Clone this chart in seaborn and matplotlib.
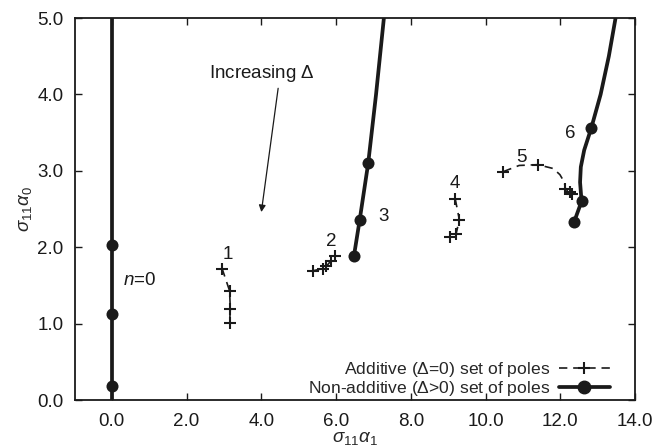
import matplotlib
matplotlib.use("Agg")
import matplotlib.pyplot as plt
import seaborn as sns
from matplotlib.lines import Line2D

# ---- data ----
# Non-additive (Delta>0) branches: curve paths and marked poles
n0_line_x = [0.0, 0.0]
n0_line_y = [0.0, 5.0]
n0_pts_x = [0.0, 0.0, 0.0]
n0_pts_y = [0.18, 1.12, 2.03]

b3_line_x = [6.48, 6.63, 6.86, 7.07, 7.28]
b3_line_y = [1.89, 2.35, 3.10, 4.00, 5.00]
b3_pts_x = [6.48, 6.63, 6.86]
b3_pts_y = [1.89, 2.35, 3.10]

b6_line_x = [12.37, 12.57, 12.53, 12.55, 12.64, 12.83, 13.08, 13.30, 13.48]
b6_line_y = [2.33, 2.60, 2.85, 3.05, 3.27, 3.56, 4.00, 4.50, 5.00]
b6_pts_x = [12.37, 12.57, 12.83]
b6_pts_y = [2.33, 2.60, 3.56]

# Additive (Delta=0) branches
a1_x = [2.95, 3.15, 3.17, 3.15]
a1_y = [1.72, 1.43, 1.19, 1.01]
a2_x = [5.37, 5.64, 5.74, 5.86, 5.96]
a2_y = [1.69, 1.72, 1.75, 1.82, 1.88]
a4_x = [9.19, 9.30, 9.21, 9.04]
a4_y = [2.63, 2.36, 2.17, 2.13]
a5_line_x = [10.48, 10.90, 11.40, 11.81, 11.99, 12.11, 12.14, 12.25, 12.32]
a5_line_y = [2.99, 3.07, 3.08, 3.03, 2.95, 2.85, 2.76, 2.72, 2.69]
a5_pts_x = [10.48, 11.40, 12.14, 12.25, 12.32]
a5_pts_y = [2.99, 3.08, 2.76, 2.72, 2.69]

branch_labels = ["1", "2", "3", "4", "5", "6"]
label_x = [3.09, 5.87, 7.28, 9.17, 10.96, 12.27]
label_y = [1.90, 2.08, 2.40, 2.84, 3.18, 3.49]

x_ticks = [0, 2, 4, 6, 8, 10, 12, 14]
x_ticklabels = ["0.0", "2.0", "4.0", "6.0", "8.0", "10.0", "12.0", "14.0"]
y_ticks = [0, 1, 2, 3, 4, 5]
y_ticklabels = ["0.0", "1.0", "2.0", "3.0", "4.0", "5.0"]

legend_labels = [r"Additive ($\mathit{\Delta}$=0) set of poles",
                 r"Non-additive ($\mathit{\Delta}$>0) set of poles"]

# ---- styling ----
sns.set_theme(style="ticks")
plt.rcParams["font.family"] = ["Liberation Sans", "DejaVu Sans"]
plt.rcParams["mathtext.fontset"] = "custom"
plt.rcParams["mathtext.rm"] = "Liberation Sans"
plt.rcParams["mathtext.it"] = "Liberation Sans:italic"
plt.rcParams["mathtext.sf"] = "Liberation Sans"

FS = 13.5
fig = plt.figure(figsize=(6.69, 4.48), dpi=100)
ax = fig.add_axes([74.5 / 669, 48 / 448, (635 - 74.5) / 669, (400 - 18) / 448])

K = "#1a1a1a"
THICK = 2.7
DASH = (5, 3.5)

def thick_line(xs, ys):
    sns.lineplot(x=xs, y=ys, sort=False, estimator=None, ax=ax, color=K,
                 linewidth=THICK, legend=False)

def dots(xs, ys):
    sns.scatterplot(x=xs, y=ys, ax=ax, color=K, s=75, edgecolor=K,
                    linewidth=0, zorder=5, legend=False)

def dashed_line(xs, ys):
    sns.lineplot(x=xs, y=ys, sort=False, estimator=None, ax=ax, color=K,
                 linewidth=1.2, legend=False)
    ax.lines[-1].set_dashes(DASH)

def crosses(xs, ys):
    sns.scatterplot(x=xs, y=ys, ax=ax, color=K, marker="+", s=75,
                    linewidth=1.5, zorder=5, legend=False)

thick_line(n0_line_x, n0_line_y); dots(n0_pts_x, n0_pts_y)
thick_line(b3_line_x, b3_line_y); dots(b3_pts_x, b3_pts_y)
thick_line(b6_line_x, b6_line_y); dots(b6_pts_x, b6_pts_y)

dashed_line(a1_x, a1_y); crosses(a1_x, a1_y)
dashed_line(a2_x, a2_y); crosses(a2_x, a2_y)
dashed_line(a4_x, a4_y); crosses(a4_x, a4_y)
dashed_line(a5_line_x, a5_line_y); crosses(a5_pts_x, a5_pts_y)

for t, x, y in zip(branch_labels, label_x, label_y):
    ax.text(x, y, t, fontsize=FS, ha="center", va="center", color=K)
ax.text(0.29, 1.57, r"$n$=0", fontsize=FS, ha="left", va="center", color=K)

ax.annotate("", xy=(4.0, 2.46), xytext=(4.45, 4.08),
            arrowprops=dict(arrowstyle="-|>", color=K, lw=0.9,
                            mutation_scale=10, shrinkA=0, shrinkB=0))
ax.text(2.61, 4.27, r"Increasing $\mathit{\Delta}$", fontsize=FS,
        ha="left", va="center", color=K)

ax.set_xlim(-1, 14)
ax.set_ylim(0, 5)
ax.set_xticks(x_ticks)
ax.set_xticklabels(x_ticklabels)
ax.set_yticks(y_ticks)
ax.set_yticklabels(y_ticklabels)
ax.tick_params(direction="in", top=True, right=True, length=5, width=1,
               labelsize=FS, colors=K)
ax.tick_params(axis="x", pad=9)
ax.tick_params(axis="y", pad=8)
for s in ax.spines.values():
    s.set_linewidth(1.3)
    s.set_color(K)
ax.set_xlabel(r"$\sigma_{11}\alpha_1$", fontsize=FS, labelpad=0)
ax.set_ylabel(r"$\sigma_{11}\alpha_0$", fontsize=FS, labelpad=2)

h1 = Line2D([], [], color=K, lw=1.2, dashes=DASH, marker="+", ms=9, mew=1.5)
h2 = Line2D([], [], color=K, lw=THICK, marker="o", ms=9)
ax.legend([h1, h2], legend_labels, loc="lower right",
          bbox_to_anchor=(0.955, 0.006), frameon=False, markerfirst=False,
          fontsize=12.6, handlelength=2.9, handletextpad=0.5,
          labelspacing=-0.02, borderaxespad=0.0, borderpad=0.0)

fig.savefig("out.png", dpi=100)
